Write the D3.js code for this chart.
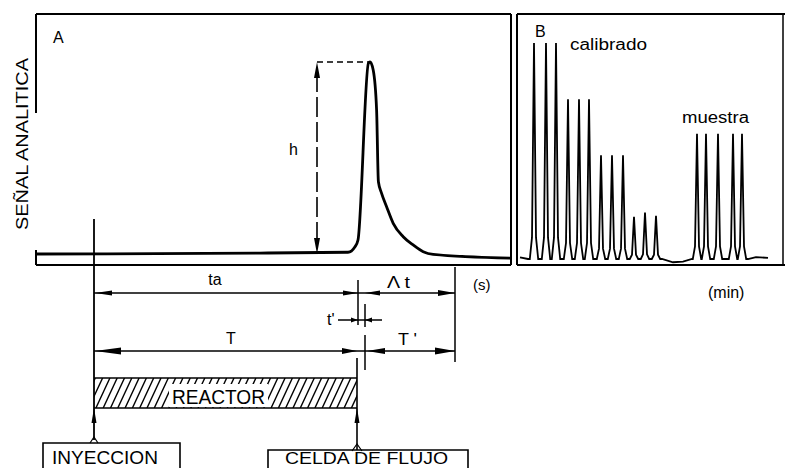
<!DOCTYPE html>
<html><head><meta charset="utf-8">
<script src="https://cdn.jsdelivr.net/npm/d3@7"></script>
<style>body{margin:0;background:#fff}svg{display:block}</style>
</head><body>
<svg id="c" width="785" height="468"></svg>
<script>
// ---------- DATA ----------
// Panel A: single FIA peak (time in s relative to injection, signal in % of h)
const signalTime  = [-29, 83, 127, 130.5, 132, 137.2, 138, 139.6, 141.3, 142.2, 143.8, 146.3, 149.6, 154.6, 159.6, 164.6, 169.6, 208.3];
const signalValue = [0, 0.5, 0.9, 3.8, 7.3, 99.3, 100, 95.8, 75, 37.6, 31.6, 24.6, 16, 9, 4.7, 1.2, -0.2, -2.2];
const injectionTime = 0;
const taEndTime = 132;       // ta
const reactorEndTime = 131.5; // T
const tPrimeEndTime = 135.5; // t'
const deltaEndTime = 180.5;  // Δt / T'
const hMarkTime = 111.5;
const peakTime = 138;
const peakValue = 100;

// Panel B: calibration and sample peaks (time in min, height in %)
const calibTimes   = [1.4, 2.6, 3.6, 4.8, 5.9, 6.9, 8.1, 9.2, 10.3, 11.4, 12.5, 13.6];
const calibHeights = [100, 100, 100, 74, 74, 74, 48, 48, 48, 19.5, 21.5, 20];
const sampleTimes   = [17.7, 18.6, 19.8, 21.3, 22.2];
const sampleHeights = [58, 58, 58, 58, 58];
const baseTimes  = [0, 0.8, 14.2, 15.3, 16.3, 17.2, 22.8, 23.6, 24.8];
const baseValues = [0.8, 0, 0, -1.5, -1.2, 0, 0, 0.9, 0.5];

// Labels
const yLabel = "SEÑAL ANALITICA";
const labelA = "A", labelB = "B";
const unitA = "(s)", unitB = "(min)";

// ---------- DRAW ----------
const svg = d3.select("#c");
const FONT = "'Liberation Sans', Arial, sans-serif";

const xA = d3.scaleLinear().domain([-29, 208.5]).range([36, 511]);
const yA = d3.scaleLinear().domain([0, 100]).range([254, 62]);
const xB = d3.scaleLinear().domain([0, 25]).range([520, 770]);
const yB = d3.scaleLinear().domain([0, 100]).range([259, 43]);

function seg(x1,y1,x2,y2,w,dash){
  const l = svg.append("line").attr("x1",x1).attr("y1",y1).attr("x2",x2).attr("y2",y2)
    .attr("stroke","#000").attr("stroke-width",w||1.5);
  if(dash) l.attr("stroke-dasharray",dash);
  return l;
}
function arrow(x,y,dir,len,hw){ // tip at (x,y)
  let pts;
  if(dir==="left")  pts=[[x,y],[x+len,y-hw],[x+len,y+hw]];
  if(dir==="right") pts=[[x,y],[x-len,y-hw],[x-len,y+hw]];
  if(dir==="up")    pts=[[x,y],[x-hw,y+len],[x+hw,y+len]];
  if(dir==="down")  pts=[[x,y],[x-hw,y-len],[x+hw,y-len]];
  svg.append("path").attr("d","M"+pts.map(p=>p.join(",")).join("L")+"Z").attr("fill","#000");
}
function text(s,x,y,size,opts){
  opts=opts||{};
  const t=svg.append("text").attr("x",x).attr("y",y).text(s)
    .attr("font-family",FONT).attr("font-size",size).attr("fill","#000");
  if(opts.anchor) t.attr("text-anchor",opts.anchor);
  if(opts.len) t.attr("textLength",opts.len).attr("lengthAdjust","spacingAndGlyphs");
  if(opts.transform) t.attr("transform",opts.transform);
  return t;
}

// Panel A frame
seg(36,14,511,14,2); seg(511,14,511,265,2); seg(36,265,511,265,2);
seg(36,14,36,113,2); seg(36,250,36,265,2);

// Panel B frame
seg(517,14,785,14,2); seg(517,14,517,265,2); seg(517,265,785,265,2); seg(783,14,783,265,1.5);

// Y label
text(yLabel, 0, 0, 16, {anchor:"middle", len:172, transform:"translate(28,144) rotate(-90)"});
text(labelA, 53, 43, 16);
text(labelB, 535, 37, 16);
text("calibrado", 570, 50, 16, {len:77});
text("muestra", 682, 123, 16, {len:67});

// Panel A signal
const sig = signalTime.map((t,i)=>[t,signalValue[i]]);
svg.append("path").datum(sig)
  .attr("d", d3.line().x(d=>xA(d[0])).y(d=>yA(d[1])).curve(d3.curveMonotoneX))
  .attr("fill","none").attr("stroke","#000").attr("stroke-width",2.8).attr("stroke-linejoin","round");

// h dimension
const hx = xA(hMarkTime);
seg(hx, yA(peakValue), xA(peakTime), yA(peakValue), 1.6, "6,4");
seg(hx, yA(peakValue)+10, hx, yA(0)-10, 1.6, "20,5");
arrow(hx, yA(peakValue), "up", 16, 3);
arrow(hx, yA(0), "down", 16, 3);
text("h", hx-28, 155, 16);

// Injection line
const xi = xA(injectionTime);
seg(xi, 219, xi, 440, 1.8);

// Dimension rows
const xta = xA(taEndTime), xtp = xA(tPrimeEndTime), xd = xA(deltaEndTime), xr = xA(reactorEndTime);
const rowTa = 293, rowTp = 320, rowT = 351;
// ticks
seg(xta, 280, xta, 325, 1.5);
seg(xtp, 304, xtp, 327, 1.5);
seg(xtp, 335, xtp, 370, 1.5);
seg(xd, 267, xd, 362, 1.5);
// ta row
seg(xi, rowTa, xd, rowTa, 1.5);
arrow(xi+1, rowTa, "left", 17, 2.5);
arrow(xta, rowTa, "right", 15, 2.5);
arrow(xtp, rowTa, "left", 15, 2.5);
arrow(xd, rowTa, "right", 17, 3);
text("ta", 215, 285, 16, {anchor:"middle"});
text("Λ t", 387, 288, 16, {len:23});
text(unitA, 473, 290, 15);
// t' row
seg(338, rowTp, 382, rowTp, 1.3);
arrow(xta, rowTp, "right", 7, 2.5);
arrow(xtp, rowTp, "left", 7, 2.5);
text("t'", 327, 325, 16);
// T row
seg(xi, rowT, xd, rowT, 1.5);
arrow(xi+1, rowT, "left", 26, 3.5);
arrow(xr, rowT, "right", 15, 3);
arrow(xtp+2, rowT, "left", 18, 3);
arrow(xd, rowT, "right", 20, 3.5);
text("T", 231, 344, 16, {anchor:"middle"});
text("T '", 398, 345, 16, {len:19});

// Reactor
const rTop = 378, rBot = 408;
const clip = svg.append("clipPath").attr("id","rc");
clip.append("rect").attr("x",xi).attr("y",rTop).attr("width",xr-xi).attr("height",rBot-rTop);
const hg = svg.append("g").attr("clip-path","url(#rc)");
d3.range(xi-20, xr+10, 7.3).forEach(x=>{
  hg.append("line").attr("x1",x).attr("y1",rBot).attr("x2",x+14).attr("y2",rTop)
    .attr("stroke","#000").attr("stroke-width",1.4);
});
svg.append("rect").attr("x",169).attr("y",384).attr("width",99).attr("height",23).attr("fill","#fff");
seg(xi, rTop, xr, rTop, 1.5); seg(xi, rBot, xr, rBot, 1.5);
text("REACTOR", 172, 404, 20, {len:93});

// Reactor end line and flow arrows
seg(xr, 358, xr, 450, 1.6);
arrow(xr, rBot, "up", 15, 2.5);
arrow(xi, rBot, "up", 15, 2.5);
// carets
svg.append("path").attr("d",`M${xi-4},443L${xi},437L${xi+4},443`).attr("fill","none").attr("stroke","#000").attr("stroke-width",1.2);
svg.append("path").attr("d",`M${xr-5},451L${xr},444L${xr+5},451`).attr("fill","none").attr("stroke","#000").attr("stroke-width",1.2);

// Boxes
svg.append("path").attr("d","M43,470L43,443L180,443L180,470").attr("fill","none").attr("stroke","#000").attr("stroke-width",1.6);
text("INYECCION", 52, 464, 19, {len:106});
svg.append("path").attr("d","M268,470L268,450L468,450L468,470").attr("fill","none").attr("stroke","#000").attr("stroke-width",1.6);
text("CELDA DE FLUJO", 285, 464, 16, {len:163});

// Panel B chromatogram
let ptsB = baseTimes.map((t,i)=>[t, baseValues[i]]);
function addPeak(t,h){
  ptsB.push([t-0.42,0],[t-0.2,h*0.1],[t,h],[t+0.2,h*0.1],[t+0.42,0]);
}
calibTimes.forEach((t,i)=>addPeak(t,calibHeights[i]));
sampleTimes.forEach((t,i)=>addPeak(t,sampleHeights[i]));
ptsB.sort((a,b)=>a[0]-b[0]);
svg.append("path").datum(ptsB)
  .attr("d", d3.line().x(d=>xB(d[0])).y(d=>yB(d[1])))
  .attr("fill","none").attr("stroke","#000").attr("stroke-width",1.8).attr("stroke-linejoin","miter");
text(unitB, 708, 298, 16);
</script>
</body></html>
